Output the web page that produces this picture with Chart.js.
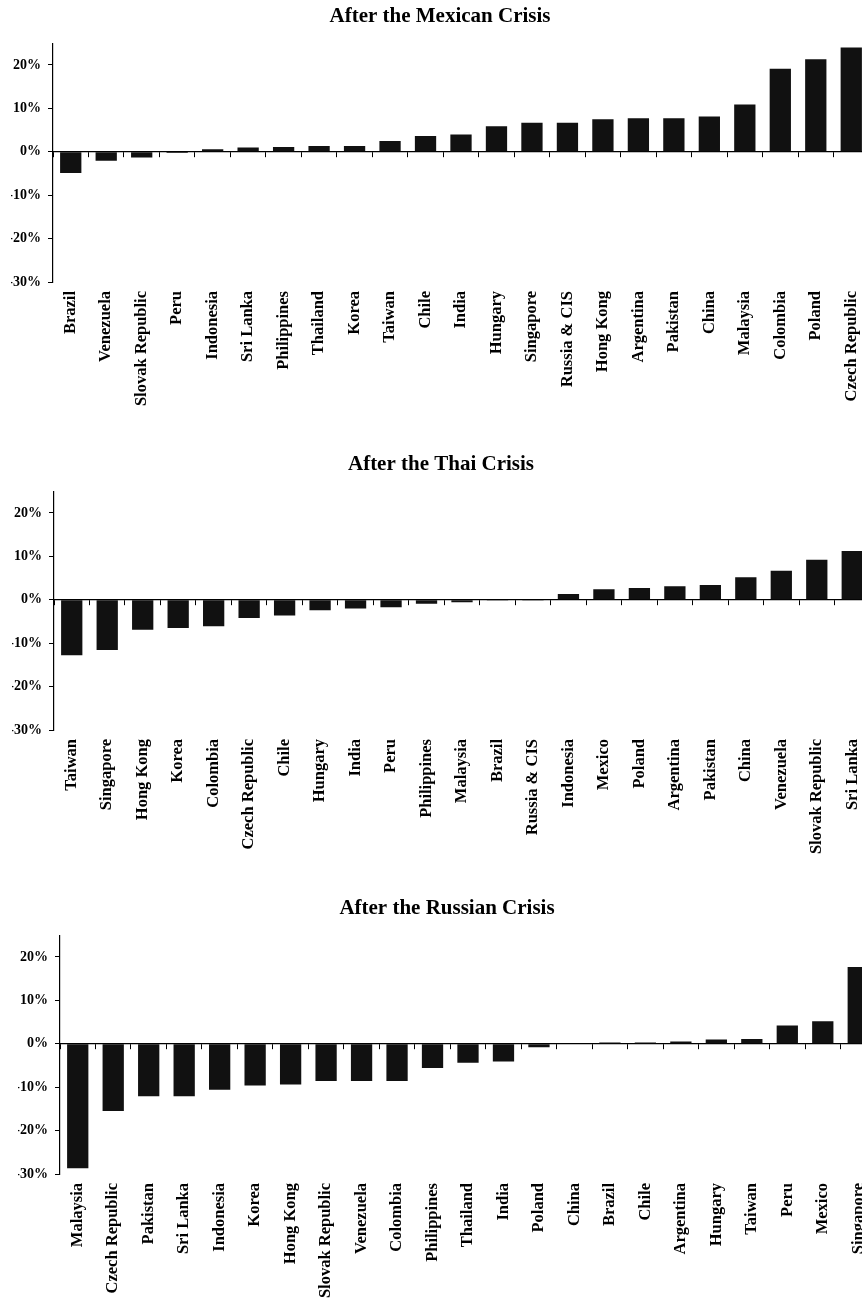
<!DOCTYPE html>
<html>
<head>
<meta charset="utf-8">
<script src="https://cdn.jsdelivr.net/npm/chart.js@4.4.1/dist/chart.umd.min.js"></script>
<style>
  html, body { margin: 0; padding: 0; background: #fff; }
  body { width: 862px; height: 1300px; overflow: hidden; position: relative; }
  canvas { position: absolute; }
</style>
</head>
<body>
<canvas id="mexico" width="869" height="447" style="left:0px; top:0px"></canvas>
<canvas id="thai" width="869" height="447" style="left:1px; top:448px"></canvas>
<canvas id="russia" width="869" height="447" style="left:7px; top:892px"></canvas>
<script>
    // returns after each crisis, sorted low to high (in %)
    const mexicoLabels = ['Brazil', 'Venezuela', 'Slovak Republic', 'Peru', 'Indonesia', 'Sri Lanka', 'Philippines',
        'Thailand', 'Korea', 'Taiwan', 'Chile', 'India', 'Hungary', 'Singapore', 'Russia & CIS', 'Hong Kong',
        'Argentina', 'Pakistan', 'China', 'Malaysia', 'Colombia', 'Poland', 'Czech Republic'];
    const mexicoValues = [-4.9, -2.1, -1.3, -0.3, 0.6, 1.0, 1.1, 1.3, 1.3, 2.5, 3.6, 4.0, 5.9, 6.7, 6.7, 7.5,
        7.7, 7.7, 8.1, 10.9, 19.1, 21.3, 24.0];

    const thaiLabels = ['Taiwan', 'Singapore', 'Hong Kong', 'Korea', 'Colombia', 'Czech Republic', 'Chile',
        'Hungary', 'India', 'Peru', 'Philippines', 'Malaysia', 'Brazil', 'Russia & CIS', 'Indonesia', 'Mexico',
        'Poland', 'Argentina', 'Pakistan', 'China', 'Venezuela', 'Slovak Republic', 'Sri Lanka'];
    const thaiValues = [-12.8, -11.6, -6.9, -6.5, -6.1, -4.2, -3.6, -2.4, -2.0, -1.7, -0.9, -0.6, -0.2, -0.2,
        1.3, 2.4, 2.7, 3.1, 3.4, 5.2, 6.7, 9.2, 11.2];

    const russiaLabels = ['Malaysia', 'Czech Republic', 'Pakistan', 'Sri Lanka', 'Indonesia', 'Korea', 'Hong Kong',
        'Slovak Republic', 'Venezuela', 'Colombia', 'Philippines', 'Thailand', 'India', 'Poland', 'China', 'Brazil',
        'Chile', 'Argentina', 'Hungary', 'Taiwan', 'Peru', 'Mexico', 'Singapore'];
    const russiaValues = [-28.7, -15.5, -12.1, -12.1, -10.6, -9.6, -9.4, -8.6, -8.6, -8.6, -5.6, -4.4, -4.1, -0.8,
        0.1, 0.3, 0.3, 0.5, 1.0, 1.1, 4.2, 5.2, 17.7];

    const yTicks = { min: -30, max: 25, step: 10 };

    const SERIF = "'Liberation Serif', 'Times New Roman', serif";

    function makeChart(id, title, labels, values) {
        const ctx = document.getElementById(id).getContext('2d');
        return new Chart(ctx, {
            type: 'bar',
            data: {
                labels: labels,
                datasets: [{
                    data: values,
                    backgroundColor: '#111',
                    borderWidth: 0,
                    barPercentage: 0.6,
                    categoryPercentage: 1.0
                }]
            },
            options: {
                responsive: false,
                animation: false,
                devicePixelRatio: 1,
                layout: { padding: { left: 11, right: 0, top: 0, bottom: 0 } },
                plugins: {
                    legend: { display: false },
                    tooltip: { enabled: false },
                    title: {
                        display: true,
                        text: title,
                        color: '#000',
                        font: { family: SERIF, size: 21, weight: 'bold', lineHeight: 1.2 },
                        padding: { top: 4, bottom: 14 }
                    }
                },
                scales: {
                    x: {
                        position: 'bottom',
                        grid: { display: false, drawTicks: false },
                        border: { display: false },
                        ticks: {
                            autoSkip: false, minRotation: 90, maxRotation: 90, padding: 9,
                            color: '#000', font: { family: SERIF, size: 16.5, weight: 'bold' }
                        },
                        afterFit: (axis) => { axis.height = 165; axis.paddingLeft = 0; axis.paddingRight = 0; }
                    },
                    x0: {
                        type: 'category',
                        position: { y: 0 },
                        offset: true,
                        grid: { offset: true, drawOnChartArea: false, drawTicks: true, tickLength: 5, color: '#000', lineWidth: 1 },
                        border: { display: true, color: '#000', width: 1.2 },
                        ticks: { display: false },
                        afterFit: (axis) => { axis.paddingLeft = 0; axis.paddingRight = 0; }
                    },
                    y: {
                        min: yTicks.min,
                        max: yTicks.max,
                        grid: { drawOnChartArea: false, drawTicks: true, tickLength: 5, color: '#000' },
                        border: { display: true, color: '#000', width: 1.2 },
                        ticks: {
                            stepSize: yTicks.step, includeBounds: false, padding: 7,
                            color: '#000', font: { family: SERIF, size: 14, weight: 'bold' },
                            callback: (v) => v + '%'
                        },
                        afterFit: (axis) => { axis.width = 42; axis.paddingTop = 0; axis.paddingBottom = 0; }
                    }
                }
            }
        });
    }

    makeChart('mexico', 'After the Mexican Crisis', mexicoLabels, mexicoValues);
    makeChart('thai', 'After the Thai Crisis', thaiLabels, thaiValues);
    makeChart('russia', 'After the Russian Crisis', russiaLabels, russiaValues);
</script>
</body>
</html>
